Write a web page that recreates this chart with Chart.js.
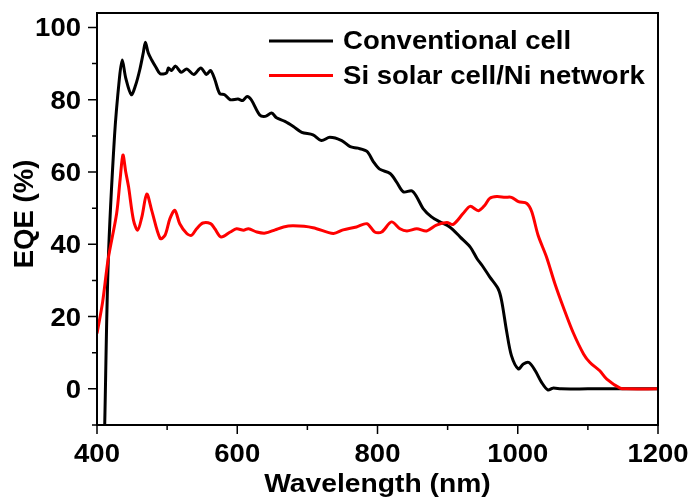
<!DOCTYPE html>
<html>
<head>
<meta charset="utf-8">
<script src="https://cdn.jsdelivr.net/npm/chart.js@4.4.1/dist/chart.umd.min.js"></script>
<style>
  html, body { margin: 0; padding: 0; background: #fff; }
  #wrap { width: 691px; height: 498px; }
</style>
</head>
<body>
<div id="wrap"><canvas id="eqe"></canvas></div>
<script>
// conventional cell: wavelength (nm) / EQE (%)
const convWl = [411, 416, 425, 432, 436, 441, 449, 455, 461, 466, 469, 473, 478, 484, 490, 499, 502, 506, 512, 520, 528, 538, 548, 556, 562, 568, 575, 582, 590, 601, 608, 614, 620, 632, 640, 649, 656, 668, 680, 692, 708, 720, 732, 749, 761, 772, 785, 794, 803, 818, 827, 837, 849, 856, 865, 877, 889, 903, 918, 932, 942, 949, 960, 972, 977, 984, 991, 1001, 1008, 1016, 1025, 1034, 1043, 1050, 1062, 1100, 1150, 1200]
const convEqe = [-10, 35, 70, 86, 91, 86, 81.4, 84, 88.3, 93, 95.9, 93, 91, 89, 87.2, 87.4, 88.8, 88.1, 89.3, 87.6, 88.5, 87, 88.8, 87, 88.1, 85.6, 81.7, 81.4, 80, 80.2, 79.8, 80.9, 80, 75.8, 75.4, 76.3, 75, 74, 72.6, 71, 70.3, 68.7, 69.6, 68.7, 67, 66.6, 65.7, 62.9, 60.8, 59.6, 57.3, 54.5, 54.8, 53.1, 49.9, 47.6, 46.2, 44.8, 42, 39.3, 36, 34.2, 31, 27.7, 24.4, 16.1, 9.2, 5.5, 6.9, 7.3, 5, 1.8, -0.3, 0.2, 0, 0, 0, 0]

// Si solar cell / Ni network
const niWl = [400, 408, 416, 428, 433, 437, 441, 445, 452, 458, 464, 471, 478, 490, 497, 504, 511, 518, 528, 535, 542, 551, 562, 568, 577, 590, 599, 609, 616, 628, 640, 654, 666, 680, 708, 737, 751, 770, 785, 796, 806, 820, 832, 842, 856, 870, 884, 899, 908, 922, 932, 944, 953, 960, 970, 982, 991, 1001, 1013, 1020, 1029, 1041, 1053, 1065, 1079, 1094, 1103, 1117, 1127, 1146, 1155, 1200]
const niEqe = [15.3, 24, 36, 48.5, 58, 64.7, 60, 55.9, 46.7, 43.9, 47.6, 53.9, 49.4, 41.6, 42.5, 47.1, 49.4, 45.7, 43, 42.5, 44.3, 45.9, 45.7, 44.3, 42, 43.4, 44.3, 43.9, 44.3, 43.4, 43.1, 44, 44.8, 45.1, 44.6, 43, 44, 44.8, 45.7, 43.4, 43.4, 46.2, 44.3, 43.7, 44.3, 43.7, 45.3, 46, 45.5, 48.5, 50.5, 49.3, 50.8, 52.7, 53.2, 53, 53, 51.8, 51.3, 49, 42.5, 36.5, 29.1, 22.6, 15.6, 9.6, 7.3, 5, 2.7, 0.2, 0, 0]

const xMajor = [400, 600, 800, 1000, 1200]
const xMinor = [500, 700, 900, 1100]
const yMajor = [0, 20, 40, 60, 80, 100]
const yMinor = [-10, 10, 30, 50, 70, 90]

const seriesNames = ["Conventional cell", "Si solar cell/Ni network"]
const seriesColors = ["#000000", "#ff0000"]
const xTitle = "Wavelength (nm)"
const yTitle = "EQE (%)"

const toPoints = (xs, ys) => xs.map((x, i) => ({ x: x, y: ys[i] }))

const FONT = "'Liberation Sans', Arial, sans-serif"

// the original lettering is a bit wider than Liberation Sans, so stretch it
function wideText(ctx, text, x, y, size, sx, align) {
  ctx.save()
  ctx.font = "bold " + size + "px " + FONT
  ctx.textBaseline = "alphabetic"
  const w = ctx.measureText(text).width * sx
  let left = x
  if (align === "center") left = x - w / 2
  if (align === "right") left = x - w
  ctx.translate(left, y)
  ctx.scale(sx, 1)
  ctx.textAlign = "left"
  ctx.fillStyle = "#000"
  ctx.fillText(text, 0, 0)
  ctx.restore()
}

// frame, outward ticks, labels and the inset legend
const framePlugin = {
  id: "frame",
  afterDraw(chart) {
    const { ctx, chartArea: a, scales } = chart
    ctx.save()
    ctx.strokeStyle = "#000"
    ctx.lineWidth = 2
    ctx.strokeRect(a.left, a.top, a.right - a.left, a.bottom - a.top)

    ctx.lineWidth = 1.5
    ctx.beginPath()
    xMajor.forEach(v => {
      const px = scales.x.getPixelForValue(v)
      ctx.moveTo(px, a.bottom); ctx.lineTo(px, a.bottom + 9)
    })
    xMinor.forEach(v => {
      const px = scales.x.getPixelForValue(v)
      ctx.moveTo(px, a.bottom); ctx.lineTo(px, a.bottom + 5)
    })
    yMajor.forEach(v => {
      const py = scales.y.getPixelForValue(v)
      ctx.moveTo(a.left, py); ctx.lineTo(a.left - 9, py)
    })
    yMinor.forEach(v => {
      const py = scales.y.getPixelForValue(v)
      ctx.moveTo(a.left, py); ctx.lineTo(a.left - 5, py)
    })
    ctx.stroke()

    // tick labels
    xMajor.forEach(v => {
      wideText(ctx, String(v), scales.x.getPixelForValue(v), a.bottom + 37, 25, 1.1, "center")
    })
    yMajor.forEach(v => {
      wideText(ctx, String(v), a.left - 16, scales.y.getPixelForValue(v) + 9, 25, 1.1, "right")
    })

    // axis titles
    wideText(ctx, xTitle, (a.left + a.right) / 2, 492, 25, 1.13, "center")
    ctx.save()
    ctx.translate(33, (a.top + a.bottom) / 2 - 5)
    ctx.rotate(-Math.PI / 2)
    wideText(ctx, yTitle, 0, 0, 27, 1.02, "center")
    ctx.restore()

    // legend
    seriesNames.forEach((name, i) => {
      const y = 41 + i * 34.5
      ctx.strokeStyle = seriesColors[i]
      ctx.lineWidth = 3
      ctx.beginPath()
      ctx.moveTo(269, y); ctx.lineTo(333, y)
      ctx.stroke()
      wideText(ctx, name, 343, y + 8, 26, 1.06, "left")
    })
    ctx.restore()
  }
}

new Chart(document.getElementById("eqe"), {
  type: "line",
  data: {
    datasets: [
      {
        label: seriesNames[0],
        data: toPoints(convWl, convEqe),
        borderColor: seriesColors[0],
        borderWidth: 3,
        pointRadius: 0,
        tension: 0.3,
        order: 2
      },
      {
        label: seriesNames[1],
        data: toPoints(niWl, niEqe),
        borderColor: seriesColors[1],
        borderWidth: 3,
        pointRadius: 0,
        tension: 0.3,
        order: 1
      }
    ]
  },
  options: {
    responsive: true,
    maintainAspectRatio: false,
    animation: false,
    layout: { padding: { top: 13, right: 33, left: 0, bottom: 0 } },
    plugins: {
      legend: { display: false },
      tooltip: { enabled: false }
    },
    scales: {
      x: {
        type: "linear",
        min: 400,
        max: 1200,
        afterBuildTicks: s => { s.ticks = xMajor.map(v => ({ value: v })) },
        afterFit: s => { s.height = 73 },
        grid: { display: false },
        border: { display: false },
        ticks: { display: false }
      },
      y: {
        type: "linear",
        min: -10,
        max: 104,
        afterBuildTicks: s => { s.ticks = yMajor.map(v => ({ value: v })) },
        afterFit: s => { s.width = 97 },
        grid: { display: false },
        border: { display: false },
        ticks: { display: false }
      }
    }
  },
  plugins: [framePlugin]
})
</script>
</body>
</html>
